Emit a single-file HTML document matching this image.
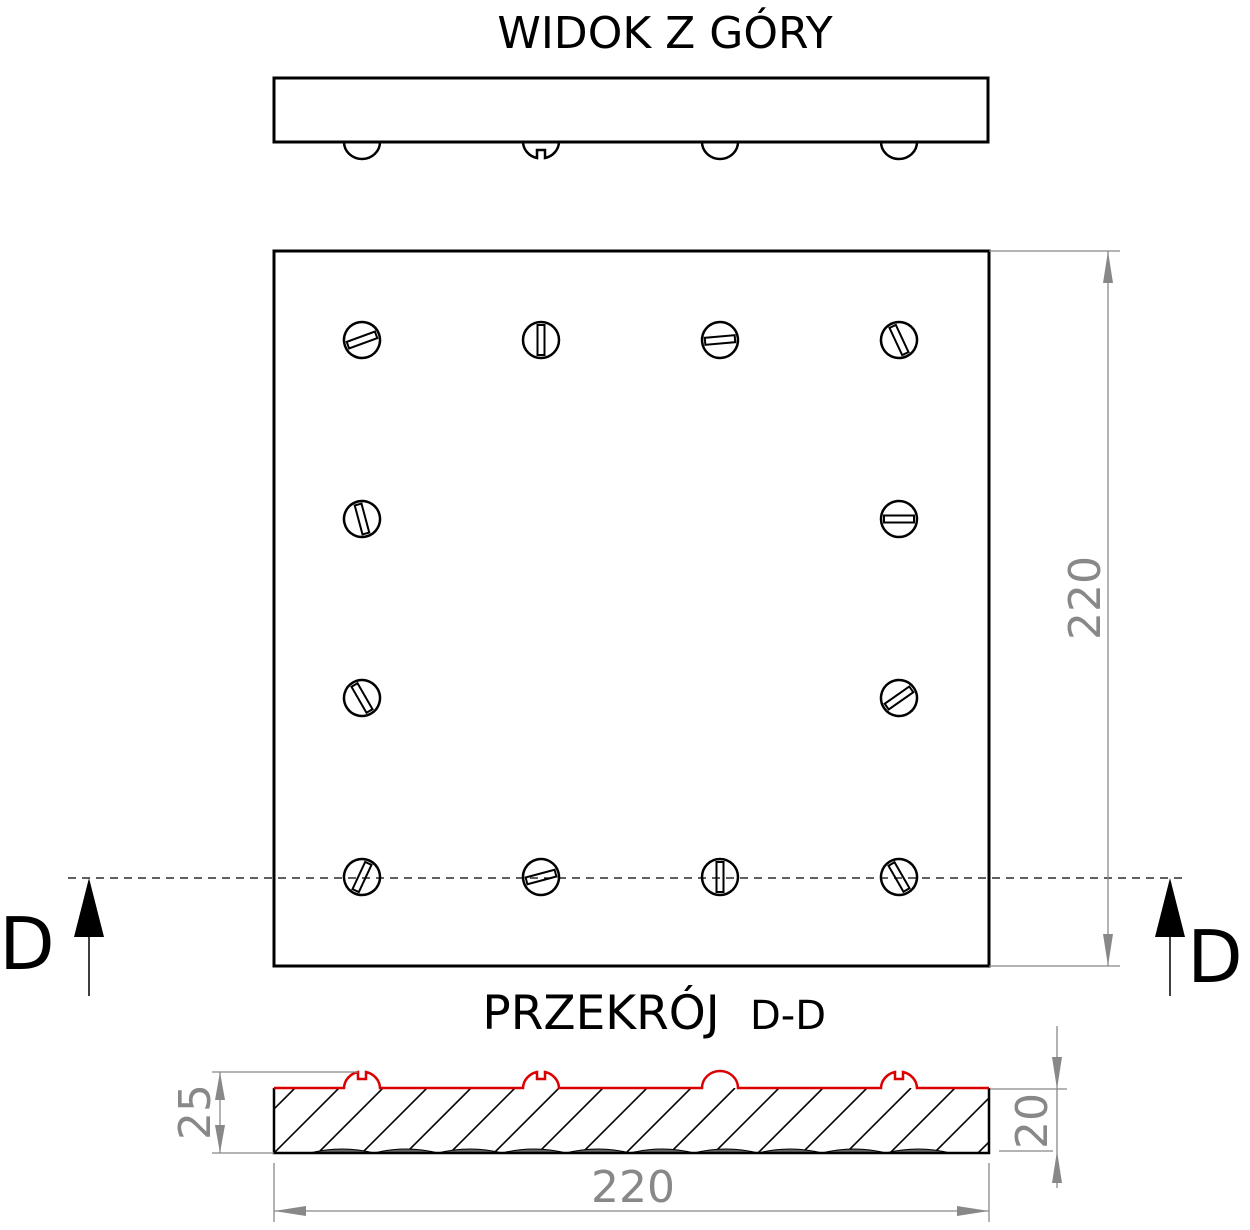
<!DOCTYPE html>
<html><head><meta charset="utf-8"><style>
html,body{margin:0;padding:0;background:#fff;}
svg{display:block;font-family:"DejaVu Sans","Liberation Sans",sans-serif;}
</style></head><body>
<svg width="1250" height="1230" viewBox="0 0 1250 1230" xmlns="http://www.w3.org/2000/svg">
<defs>
<g id="scr">
<circle r="18" fill="#fff" stroke="#000" stroke-width="2.5"/>
<rect x="-3.5" y="-15" width="7" height="30" fill="none" stroke="#000" stroke-width="2"/>
</g>
<clipPath id="sec"><rect x="274" y="1088" width="715" height="65"/></clipPath>
</defs>
<text x="665" y="48" font-size="44" text-anchor="middle" fill="#000">WIDOK Z GÓRY</text>
<g fill="#fff" stroke="#000" stroke-width="2.5">
<path d="M344 142 a18 17 0 0 0 36 0"/>
<path d="M523 142 a18 17 0 0 0 14 16 v-8 h8 v8 a18 17 0 0 0 14 -16"/>
<path d="M702 142 a18 17 0 0 0 36 0"/>
<path d="M881 142 a18 17 0 0 0 36 0"/>
</g>
<rect x="274" y="78" width="714" height="64" fill="#fff" stroke="#000" stroke-width="3"/>
<rect x="274" y="251" width="715" height="715" fill="none" stroke="#000" stroke-width="3"/>
<use href="#scr" transform="translate(362,340) rotate(70)"/>
<use href="#scr" transform="translate(541,340) rotate(0)"/>
<use href="#scr" transform="translate(720,340) rotate(85)"/>
<use href="#scr" transform="translate(899,340) rotate(-25)"/>
<use href="#scr" transform="translate(362,519) rotate(-15)"/>
<use href="#scr" transform="translate(899,519) rotate(90)"/>
<use href="#scr" transform="translate(362,698) rotate(-30)"/>
<use href="#scr" transform="translate(899,698) rotate(55)"/>
<use href="#scr" transform="translate(362,877) rotate(25)"/>
<use href="#scr" transform="translate(541,877) rotate(75)"/>
<use href="#scr" transform="translate(720,877) rotate(0)"/>
<use href="#scr" transform="translate(899,877) rotate(-30)"/>
<line x1="68" y1="878" x2="1182" y2="878" stroke="#000" stroke-width="1.3" stroke-dasharray="8,6"/>
<polygon points="89,878 74,937 104,937" fill="#000"/>
<line x1="89" y1="930" x2="89" y2="996" stroke="#000" stroke-width="1.5"/>
<polygon points="1170,878 1155,937 1185,937" fill="#000"/>
<line x1="1170" y1="930" x2="1170" y2="996" stroke="#000" stroke-width="1.5"/>
<text x="27" y="969" font-size="72" text-anchor="middle" fill="#000">D</text>
<text x="1215" y="982" font-size="72" text-anchor="middle" fill="#000">D</text>
<g stroke="#888" stroke-width="1.3" fill="#888">
<line x1="989" y1="251" x2="1120" y2="251"/>
<line x1="989" y1="966" x2="1120" y2="966"/>
<line x1="1108" y1="251" x2="1108" y2="966"/>
<polygon points="1108,251 1103,283 1113,283" stroke="none"/>
<polygon points="1108,966 1103,934 1113,934" stroke="none"/>
</g>
<text transform="translate(1100,598) rotate(-90)" font-size="44" text-anchor="middle" fill="#888">220</text>
<text x="601" y="1029" font-size="47" text-anchor="middle" fill="#000">PRZEKRÓJ</text>
<text x="788" y="1029" font-size="40" text-anchor="middle" fill="#000">D-D</text>
<g clip-path="url(#sec)" stroke="#000" stroke-width="1.6">
<line x1="230" y1="1153" x2="295" y2="1088"/><line x1="274" y1="1153" x2="339" y2="1088"/><line x1="318" y1="1153" x2="383" y2="1088"/><line x1="362" y1="1153" x2="427" y2="1088"/><line x1="406" y1="1153" x2="471" y2="1088"/><line x1="450" y1="1153" x2="515" y2="1088"/><line x1="494" y1="1153" x2="559" y2="1088"/><line x1="538" y1="1153" x2="603" y2="1088"/><line x1="582" y1="1153" x2="647" y2="1088"/><line x1="626" y1="1153" x2="691" y2="1088"/><line x1="670" y1="1153" x2="735" y2="1088"/><line x1="714" y1="1153" x2="779" y2="1088"/><line x1="758" y1="1153" x2="823" y2="1088"/><line x1="802" y1="1153" x2="867" y2="1088"/><line x1="846" y1="1153" x2="911" y2="1088"/><line x1="890" y1="1153" x2="955" y2="1088"/><line x1="934" y1="1153" x2="999" y2="1088"/><line x1="978" y1="1153" x2="1043" y2="1088"/>
</g>
<path d="M310 1153 q32 -8 64 0 q32 -8 64 0 q32 -8 64 0 q32 -8 64 0 q32 -8 64 0 q32 -8 64 0 q32 -8 64 0 q32 -8 64 0 q32 -8 64 0 q32 -8 64 0" fill="#666" stroke="#000" stroke-width="1"/>
<path d="M274 1088 V1153 H989 V1088" fill="none" stroke="#000" stroke-width="2.5"/>
<g fill="none" stroke="#d00" stroke-width="2.5">
<path d="M274 1088 H344 a18 17 0 0 1 14 -16 v7 h8 v-7 a18 17 0 0 1 14 16 H523 a18 17 0 0 1 14 -16 v7 h8 v-7 a18 17 0 0 1 14 16 H702 a18 17 0 0 1 36 0 H881 a18 17 0 0 1 14 -16 v7 h8 v-7 a18 17 0 0 1 14 16 H989"/>
</g>
<g stroke="#888" stroke-width="1.3" fill="#888">
<line x1="212" y1="1072" x2="358" y2="1072"/>
<line x1="212" y1="1153" x2="274" y2="1153"/>
<line x1="220" y1="1072" x2="220" y2="1153"/>
<polygon points="220,1072 215,1100 225,1100" stroke="none"/>
<polygon points="220,1153 215,1125 225,1125" stroke="none"/>
<line x1="990" y1="1089" x2="1067" y2="1089"/>
<line x1="999" y1="1151" x2="1053" y2="1151"/>
<line x1="1057" y1="1026" x2="1057" y2="1188"/>
<polygon points="1057,1089 1052,1057 1062,1057" stroke="none"/>
<polygon points="1057,1151 1052,1183 1062,1183" stroke="none"/>
<line x1="274" y1="1163" x2="274" y2="1222"/>
<line x1="989" y1="1163" x2="989" y2="1222"/>
<line x1="274" y1="1211" x2="989" y2="1211"/>
<polygon points="274,1211 306,1206 306,1216" stroke="none"/>
<polygon points="989,1211 957,1206 957,1216" stroke="none"/>
</g>
<text transform="translate(210,1112) rotate(-90)" font-size="44" text-anchor="middle" fill="#888">25</text>
<text transform="translate(1047,1121) rotate(-90)" font-size="44" text-anchor="middle" fill="#888">20</text>
<text x="633" y="1202" font-size="44" text-anchor="middle" fill="#888">220</text>
</svg>
</body></html>
